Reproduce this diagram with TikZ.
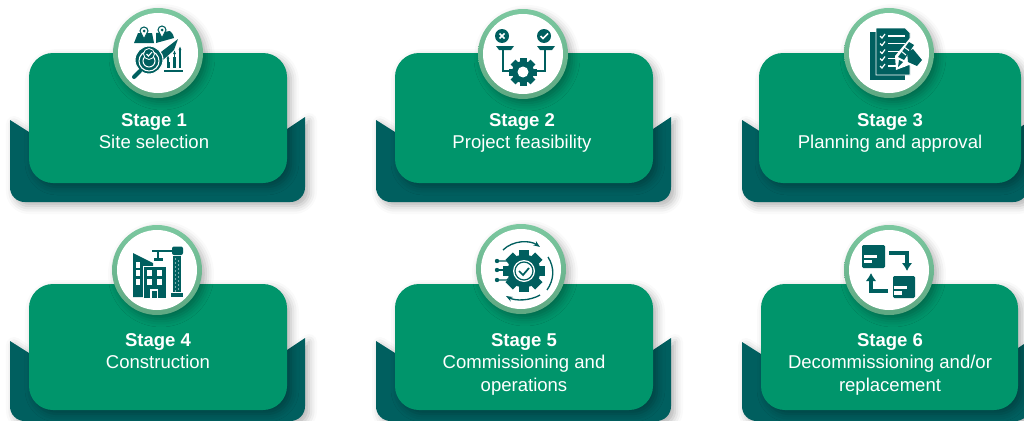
\documentclass[tikz,border=0pt]{standalone}
\usepackage{fontspec}
\setmainfont{Liberation Sans}
\usetikzlibrary{arrows.meta}
\usetikzlibrary{shadows.blur}

\definecolor{cardgreen}{HTML}{00956B}
\definecolor{backteal}{HTML}{005F5F}
\definecolor{ringtop}{HTML}{7CC8A0}
\definecolor{ringbottom}{HTML}{5FA882}

\tikzset{
  softshadow/.style={blur shadow={shadow xshift=3pt, shadow yshift=-3pt, shadow blur radius=6pt, shadow opacity=30}},
  cardbox/.style={fill=cardgreen, rounded corners=18pt, minimum height=97.5pt, softshadow},
  backplate/.style={fill=backteal, softshadow},
  ringdisc/.style={circle, top color=ringtop, bottom color=ringbottom, minimum size=67.5pt, inner sep=0pt, softshadow},
  whitedisc/.style={circle, fill=white, minimum size=60pt, inner sep=0pt},
  stagelabel/.style={anchor=north, text=white, align=center, font=\fontsize{13.9}{16.7}\selectfont},
  icon/.style={fill=backteal, draw=none},
  iconline/.style={draw=backteal, line width=1.5pt},
  gap/.style={draw=white, line width=0.8pt},
}

% left, left top, right, bottom, right top
\newcommand{\backshape}[5]{%
  \fill[backplate] (#1,#2) -- (#1+19,#2+12) -- (#3-18,#5+12) -- (#3,#5)
    [rounded corners=11pt] -- (#3,#4) -- (#1,#4) [sharp corners] -- cycle;}

% centre, outer radius, body radius, hole radius
\newcommand{\gearshape}[4]{%
  \foreach \a in {0,45,...,315}
    \fill[icon, shift={#1}, rotate=\a] (-#2*0.25,0) rectangle (#2*0.25,#2);
  \fill[icon] #1 circle (#3);
  \fill[white] #1 circle (#4);}

\begin{document}
\begin{tikzpicture}[x=0.75pt, y=-0.75pt]
  \useasboundingbox (0,0) rectangle (1024,421);
  \clip (0,0) rectangle (1024,421);

  % stage 1
  \backshape{10}{120}{305}{202}{117}
  \node[cardbox, minimum width=193.5pt] (card1) at (158,118) {};
  \node[ringdisc] (ring1) at (158,53) {};
  \node[whitedisc] (disc1) at (158,53) {};
  \fill[icon] (134,43) -- (138,33) -- (152,33) -- (154,43) -- cycle;
  \fill[icon] (156,43) -- (156,33) -- (170,31) .. controls (173,34) and (174,36) .. (174,38) -- cycle;
  \filldraw[fill=white, draw=backteal, line width=0.8pt] (140,31) -- (144,39) -- (148,31) arc (0:-180:4) -- cycle;
  \filldraw[fill=white, draw=backteal, line width=0.8pt] (158,30) -- (162,38) -- (166,30) arc (0:-180:4) -- cycle;
  \fill[icon] (144,31) circle (1.5);
  \fill[icon] (162,30) circle (1.5);
  \fill[icon] (157,55) -- (178,39) -- (174,50) -- (163,60) -- cycle;
  \filldraw[fill=backteal, draw=white, line width=0.8pt] (149,60) circle (14);
  \draw[gap] (149,61) circle (10);
  \draw[gap] (149,61) circle (6);
  \filldraw[fill=backteal, draw=white, line width=0.6pt] (149,54) circle (5.5);
  \draw[white, line width=0.8pt] (146.5,54) -- (148.5,56) -- (152,52);
  \draw[backteal, line width=3pt, line cap=round] (140,71) -- (134,77);
  \fill[icon] (164,70) rectangle (183,72);
  \fill[icon] (166.5,62) rectangle (169.5,68);
  \fill[icon] (173,57) rectangle (176,68);
  \fill[icon] (179,52) rectangle (181,68);
  \draw[iconline, line width=0.9pt, -{Latex[length=3pt]}] (168,62) -- (168,55);
  \draw[iconline, line width=0.9pt, -{Latex[length=3pt]}] (174.5,57) -- (174.5,50);
  \draw[iconline, line width=0.9pt, -{Latex[length=3pt]}] (180,52) -- (180,46);
  \node[stagelabel] (label1) at (154,109) {\textbf{Stage 1}\\Site selection};

  % stage 2
  \backshape{376}{120}{671}{202}{117}
  \node[cardbox, minimum width=193.5pt] (card2) at (524,118) {};
  \node[ringdisc] (ring2) at (523,54) {};
  \node[whitedisc] (disc2) at (523,54) {};
  \fill[icon] (502,36) circle (7);
  \fill[icon] (544,36) circle (7);
  \draw[white, line width=1.3pt] (499.5,33.5) -- (504.5,38.5) (504.5,33.5) -- (499.5,38.5);
  \draw[white, line width=1.3pt] (540.5,36) -- (543,38.5) -- (548,33.5);
  \fill[icon] (496,46) -- (514,46) -- (511,50) -- (499,50) -- cycle;
  \fill[icon] (537,46) -- (555,46) -- (552,50) -- (540,50) -- cycle;
  \draw[iconline] (503,50) -- (503,71) -- (510,71);
  \draw[iconline] (545,50) -- (545,71) -- (537,71);
  \gearshape{(523,72)}{14}{11}{5.5}
  \node[stagelabel] (label2) at (522,109) {\textbf{Stage 2}\\Project feasibility};

  % stage 3
  \backshape{742}{120}{1028}{202}{122}
  \node[cardbox, minimum width=196.5pt] (card3) at (890,118) {};
  \node[ringdisc] (ring3) at (889,53) {};
  \node[whitedisc] (disc3) at (889,53) {};
  \fill[icon] (870,32) rectangle (905,80);
  \fill[icon, draw=white] (876,28) -- (905,28) -- (910,33) -- (910,75) -- (876,75) -- cycle;
  \foreach \y in {36,43.5,51.5,58.5,66} {
    \draw[white, line width=0.9pt] (880,\y) -- (882,\y+2) -- (885,\y-2);
    \draw[white, line width=1.1pt] (888,\y) -- (905,\y);
  }
  \fill[white] (896,70) -- (895,56) -- (910,38) -- (917,41) -- (925,60) -- (918,69) -- (909,65) -- cycle;
  \fill[icon] (907,52) -- (913,49) -- (922,60) -- (917,66) -- (908,62) -- cycle;
  \fill[icon] (898,57) -- (909,42) -- (914,45) -- (904,60) -- cycle;
  \draw[white, line width=0.8pt] (901,51) -- (906,55) (904,47) -- (909,50.5);
  \fill[icon] (899,60) -- (903,62) -- (898,67) -- cycle;
  \node[stagelabel] (label3) at (890,109) {\textbf{Stage 3}\\Planning and approval};

  % stage 4
  \backshape{10}{341}{305}{421}{338}
  \node[cardbox, minimum width=193.5pt, minimum height=94.5pt] (card4) at (158,347) {};
  \node[ringdisc] (ring4) at (157,270) {};
  \node[whitedisc] (disc4) at (157,270) {};
  \fill[icon] (133,253) -- (153,263) -- (153,297) -- (133,297) -- cycle;
  \fill[icon, draw=white] (143,266) rectangle (166,298);
  \foreach \y in {264.5,273,282}
    \fill[white] (136,\y-3) rectangle (139.5,\y+3);
  \foreach \x in {149.5,159.5} \foreach \y in {273,282}
    \fill[white] (\x-2.2,\y-3) rectangle (\x+2.2,\y+3);
  \fill[white] (150,289) rectangle (158,298);
  \fill[icon] (151.5,291) rectangle (156.5,298);
  \fill[icon] (173,256) rectangle (181,292);
  \foreach \y in {259,263,...,291} {
    \fill[white] (175.5,\y) circle (0.7);
    \fill[white] (178.5,\y+2) circle (0.7);
  }
  \fill[icon] (171,293) rectangle (183,297);
  \fill[icon] (152,249.5) rectangle (172,251.5);
  \fill[icon, rounded corners=1.5pt] (172,246.5) rectangle (183,255);
  \fill[icon] (156.5,251) rectangle (158.5,258);
  \fill[icon] (154,258) rectangle (163,261);
  \node[stagelabel] (label4) at (158,329) {\textbf{Stage 4}\\Construction};

  % stage 5
  \backshape{376}{341}{671}{421}{338}
  \node[cardbox, minimum width=193.5pt, minimum height=94.5pt] (card5) at (524,347) {};
  \node[ringdisc] (ring5) at (521,269) {};
  \node[whitedisc] (disc5) at (521,269) {};
  \gearshape{(524,271)}{21}{16.5}{11}
  \draw[backteal, line width=0.9pt] (524,271) circle (9);
  \draw[backteal, line width=1.3pt] (519,271) -- (523,275) -- (529,268);
  \foreach \y in {261,270,280} \fill[icon] (497,\y) circle (2.2);
  \draw[iconline, line width=0.8pt] (497,261) -- (507,261) -- (511,266);
  \draw[iconline, line width=0.8pt] (497,270) -- (509,270);
  \draw[iconline, line width=0.8pt] (497,280) -- (507,280) -- (511,275);
  \draw[iconline, line width=1pt, -{Stealth[length=5pt]}] (503,250) .. controls (513,240) and (530,240) .. (540,247);
  \draw[iconline, line width=1pt] (548,257) .. controls (555,268) and (554,280) .. (547,290);
  \draw[iconline, line width=1pt, -{Stealth[length=5pt]}] (540,295) .. controls (530,301) and (515,301) .. (506,296);
  \node[stagelabel] (label5) at (524,329) {\textbf{Stage 5}\\Commissioning and\\operations};

  % stage 6
  \backshape{742}{342}{1030}{421}{340}
  \node[cardbox, minimum width=192.75pt, minimum height=94.5pt] (card6) at (889.5,347) {};
  \node[ringdisc] (ring6) at (889,270) {};
  \node[whitedisc] (disc6) at (889,270) {};
  \fill[icon, rounded corners=1pt] (862,245) rectangle (885,268);
  \fill[icon, rounded corners=1pt] (893,276) rectangle (915,298);
  \fill[white] (864,254.5) rectangle (877,257.5);
  \fill[white] (864,259.5) rectangle (872,263);
  \fill[white] (894,285.5) rectangle (907,288.5);
  \fill[white] (894,291) rectangle (902,294.5);
  \draw[iconline, line width=2.4pt, -{Latex[length=6pt, width=8pt]}] (889,253) -- (907,253) -- (907,271);
  \draw[iconline, line width=2.4pt, -{Latex[length=6pt, width=8pt]}] (888,291) -- (871,291) -- (871,273);
  \node[stagelabel] (label6) at (890,329) {\textbf{Stage 6}\\Decommissioning and/or\\replacement};
\end{tikzpicture}
\end{document}
